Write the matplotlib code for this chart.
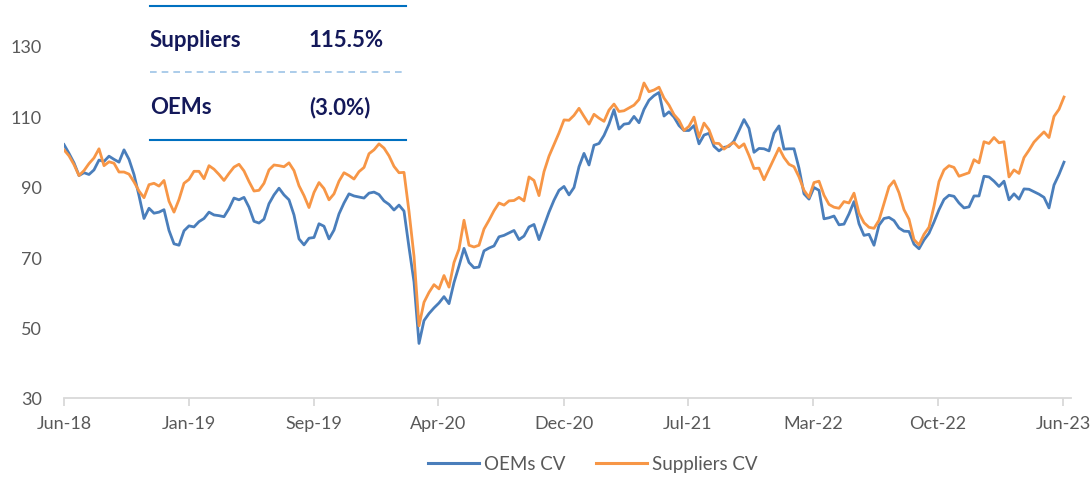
import matplotlib
matplotlib.use("Agg")
import matplotlib.pyplot as plt
import matplotlib.dates as mdates
from matplotlib.lines import Line2D
import pandas as pd

# Indexed share-price performance (start = 100)
start_date = "2018-06-01"
end_date = "2023-06-03"

oems_cv = [
    102.0, 99.5, 96.8, 93.2, 94.0, 93.5, 94.8, 97.6, 97.2, 98.7,
    97.8, 97.0, 100.5, 97.8, 93.5, 87.5, 81.0, 83.9, 82.5, 82.8,
    83.5, 77.6, 73.8, 73.4, 77.5, 78.9, 78.6, 80.1, 81.0, 82.8,
    82.0, 81.8, 81.5, 83.8, 86.8, 86.3, 87.0, 84.2, 80.2, 79.7,
    80.8, 85.2, 87.7, 89.6, 87.7, 86.3, 82.0, 75.2, 73.5, 75.4,
    75.6, 79.5, 78.8, 75.2, 77.7, 82.3, 85.4, 88.0, 87.4, 87.1,
    86.8, 88.2, 88.5, 87.8, 86.0, 85.0, 83.4, 84.8, 83.1, 72.8,
    63.0, 45.5, 52.0, 54.0, 55.6, 57.0, 58.8, 56.8, 62.8, 67.5,
    72.5, 68.5, 67.0, 67.2, 71.8, 72.6, 73.2, 75.8, 76.2, 76.9,
    77.6, 75.0, 76.0, 78.6, 79.3, 75.0, 78.9, 82.8, 86.2, 89.0,
    90.1, 87.7, 89.8, 95.7, 99.5, 96.2, 101.8, 102.3, 104.6, 107.8,
    111.9, 106.4, 107.8, 108.0, 110.0, 108.2, 112.0, 114.6, 115.9, 116.8,
    110.1, 111.3, 109.8, 107.4, 106.0, 106.0, 107.4, 102.2, 104.7, 105.2,
    101.5, 100.2, 101.2, 101.5, 103.0, 106.0, 109.1, 106.6, 99.8, 100.9,
    100.8, 100.2, 105.2, 107.3, 100.7, 100.8, 100.8, 95.3, 88.0, 86.5,
    89.8, 89.0, 80.9, 81.2, 81.7, 79.2, 79.4, 82.3, 85.8, 79.5,
    76.2, 76.5, 73.4, 79.1, 81.0, 81.3, 80.4, 78.3, 77.4, 77.3,
    73.7, 72.4, 74.9, 76.8, 80.0, 83.5, 86.4, 87.6, 87.3, 85.4,
    84.0, 84.3, 87.4, 87.4, 93.0, 92.8, 91.6, 90.1, 91.6, 86.3,
    88.0, 86.5, 89.4, 89.3, 88.6, 87.9, 87.0, 84.0, 90.5, 93.5,
    97.0,
]

suppliers_cv = [
    100.5, 98.8, 96.3, 93.2, 94.6, 96.6, 98.2, 100.8, 96.0, 97.1,
    96.7, 94.2, 94.2, 93.6, 91.4, 88.8, 86.9, 90.6, 91.0, 90.2,
    91.8, 85.9, 82.8, 86.4, 91.0, 92.1, 94.4, 94.4, 92.3, 96.0,
    95.0, 93.5, 91.8, 93.8, 95.6, 96.4, 94.5, 91.5, 88.8, 89.0,
    91.0, 94.8, 96.2, 96.0, 95.7, 96.8, 94.6, 90.3, 87.5, 84.1,
    88.4, 91.2, 89.5, 86.3, 88.0, 91.6, 94.0, 93.2, 92.2, 94.3,
    95.5, 99.4, 100.5, 102.2, 101.0, 98.8, 95.8, 94.0, 94.1, 83.0,
    70.3, 50.5, 57.2, 60.0, 62.2, 61.0, 64.8, 61.5, 68.5, 72.3,
    80.5, 73.4, 72.9, 73.4, 78.0, 80.5, 83.2, 85.4, 84.8, 86.0,
    86.1, 87.0, 86.0, 92.8, 91.8, 87.5, 94.3, 98.7, 102.0, 105.3,
    109.0, 108.9, 110.3, 112.3, 110.0, 107.8, 110.6, 109.5, 108.6, 111.8,
    113.5, 111.4, 111.6, 112.4, 113.2, 114.8, 119.5, 117.0, 117.5, 118.3,
    115.2, 113.2, 110.5, 108.9, 106.0, 107.2, 109.8, 104.1, 108.1, 106.2,
    102.4, 102.3, 100.7, 101.8, 102.6, 101.1, 102.2, 98.9, 95.2, 95.3,
    92.0, 95.0, 98.0, 101.0, 98.3, 96.4, 95.7, 92.8, 89.0, 87.0,
    91.2, 91.6, 87.6, 85.0, 84.2, 83.9, 85.8, 85.4, 88.2, 82.5,
    79.8, 78.5, 78.2, 80.5, 85.3, 90.0, 91.7, 88.3, 83.5, 80.8,
    75.0, 73.5, 76.5, 78.5, 84.5, 91.5, 94.8, 96.0, 95.5, 93.0,
    93.5, 94.0, 97.7, 96.8, 102.8, 102.3, 104.0, 102.5, 102.8, 92.8,
    94.8, 93.8, 98.3, 100.4, 102.7, 104.2, 105.6, 104.0, 110.0, 112.0,
    115.5,
]

tick_dates = ["2018-06-01", "2019-01-15", "2019-09-01", "2020-04-15",
              "2020-12-01", "2021-07-15", "2022-03-01", "2022-10-15",
              "2023-06-01"]
y_ticks = [30, 50, 70, 90, 110, 130]

series_names = ["OEMs CV", "Suppliers CV"]
table_rows = ["Suppliers", "OEMs"]
table_values = ["115.5%", "(3.0%)"]

blue = "#4A7EBB"
orange = "#F79646"
grey = "#595959"
navy = "#14195A"

plt.rcParams["font.family"] = ["Lato", "DejaVu Sans"]

dates = pd.date_range(start_date, end_date, periods=len(oems_cv))
step = dates[1] - dates[0]

fig = plt.figure(figsize=(10.92, 4.81), dpi=100)
W, H = 1092, 481
ax = fig.add_axes([64 / W, 1 - 399 / H, (1071 - 64) / W, (399 - 47) / H])

ax.plot(dates, oems_cv, color=blue, lw=2.0, label=series_names[0],
        solid_joinstyle="round")
ax.plot(dates, suppliers_cv, color=orange, lw=2.0, label=series_names[1],
        solid_joinstyle="round")

ax.set_xlim(dates[0], dates[-1] + step * 1.4)
ax.set_ylim(30, 130)
ax.set_yticks(y_ticks)
ax.set_xticks(pd.to_datetime(tick_dates))
ax.xaxis.set_major_formatter(mdates.DateFormatter("%b-%y"))

for side in ["top", "right", "left"]:
    ax.spines[side].set_visible(False)
ax.spines["bottom"].set_color("#D9D9D9")
ax.spines["bottom"].set_linewidth(1.3)
ax.tick_params(axis="x", colors="#D9D9D9", length=6, width=1.3,
               labelcolor=grey, labelsize=13, pad=6)
ax.tick_params(axis="y", length=0, labelcolor=grey, labelsize=13, pad=16)

leg = fig.legend(loc="center", bbox_to_anchor=(593 / W, 1 - 465 / H), ncol=2,
                 frameon=False, fontsize=13.5, handlelength=2.7,
                 columnspacing=1.6, handletextpad=0.3, labelcolor=grey)
for h in leg.legend_handles:
    h.set_linewidth(2.2)

# Summary box of total returns
x0, x1 = 150 / W, 406 / W
fig.add_artist(Line2D([x0, x1], [1 - 7 / H] * 2, color="#0070C0", lw=1.5))
fig.add_artist(Line2D([x0, x1], [1 - 73 / H] * 2, color="#9DC3E6", lw=1.2,
                      ls=(0, (4, 3))))
fig.add_artist(Line2D([x0, x1], [1 - 141 / H] * 2, color="#0070C0", lw=1.5))
for name, val, yy in zip(table_rows, table_values, [41, 108]):
    fig.text(x0, 1 - yy / H, name, color=navy, fontsize=16,
             fontweight="bold", va="center", ha="left")
    fig.text(309 / W, 1 - yy / H, val, color=navy, fontsize=16,
             fontweight="bold", va="center", ha="left")

fig.savefig("out.png", dpi=100)
